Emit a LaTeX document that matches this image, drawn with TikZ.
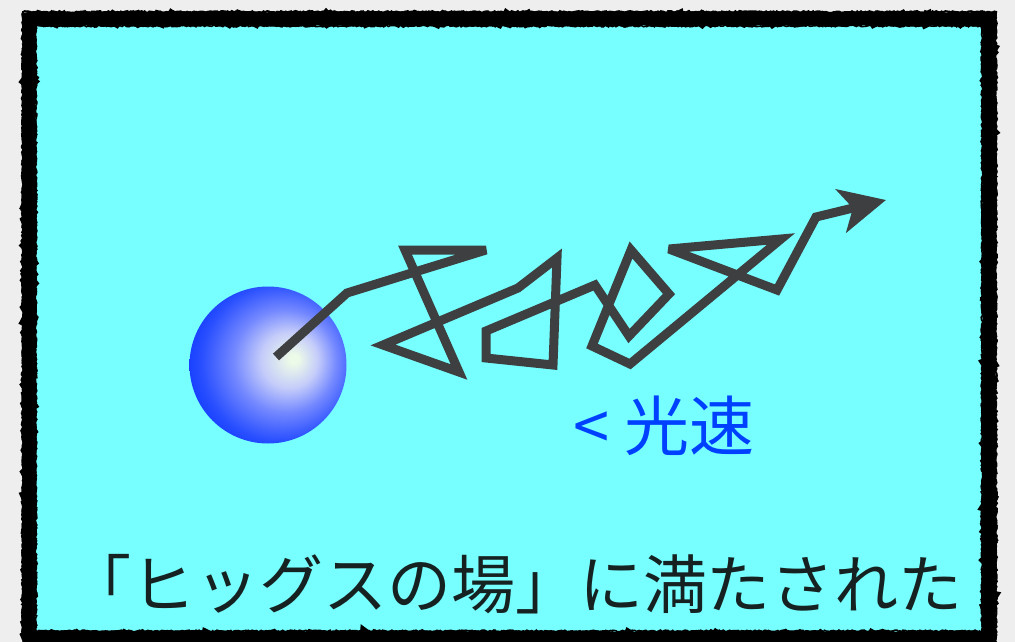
\documentclass[tikz,border=0pt]{standalone}
\usepackage{fontspec}
\usepackage{graphicx}
\newfontfamily\jpfont{Noto Sans CJK JP}
\usetikzlibrary{arrows.meta,decorations.pathmorphing}

\definecolor{pagegray}{RGB}{238,238,238}
\definecolor{fieldcyan}{RGB}{119,255,255}
\definecolor{pathgray}{RGB}{62,63,65}
\definecolor{labelblue}{RGB}{0,64,255}
\definecolor{captiondark}{RGB}{22,34,34}

% shaded particle: bright spot right of centre, deep blue rim
\pgfdeclareradialshading{particleball}{\pgfpoint{17bp}{4bp}}{%
  rgb(0bp)=(0.925,0.98,0.91);
  rgb(3bp)=(0.925,0.98,0.91);
  rgb(18bp)=(0.77,0.80,0.98);
  rgb(33bp)=(0.45,0.53,1);
  rgb(50bp)=(0.16,0.31,1);
  rgb(68bp)=(0,0.16,1);
  rgb(90bp)=(0,0.16,1)}

\tikzset{
  roughedge/.style={black, decorate,
    decoration={random steps, segment length=1.8pt, amplitude=0.9pt}},
  zigpath/.style={pathgray, line width=9pt, line join=miter, miter limit=4,
    -{Stealth[length=46pt, width=44pt, inset=12pt]}},
  captiontext/.style={font=\jpfont\fontsize{64}{64}\selectfont, inner sep=0pt},
  speedtext/.style={font=\jpfont\fontsize{65}{65}\selectfont, inner sep=0pt},
}

\begin{document}
\begin{tikzpicture}[x=1pt, y=-1pt]
  \pgfmathsetseed{7}
  \useasboundingbox (0,0) rectangle (1015,642);
  \fill[pagegray] (0,0) rectangle (1015,642);

  % the field
  \fill[fieldcyan] (30,22) rectangle (988,636);

  % hand-drawn frame
  \draw[roughedge, line width=14pt] (29,19) rectangle (989,638);
  \draw[roughedge, line width=2pt] (23,12) rectangle (996,644);
  \draw[roughedge, line width=1.5pt] (36,26) rectangle (982,631);

  % particle
  \begin{scope}
    \clip (268,365) circle[radius=78.5];
    \node[inner sep=0pt] (ball) at (268,365)
      {\scalebox{1.564}{\pgfuseshading{particleball}}};
  \end{scope}
  \coordinate (start) at (276,357);
  \coordinate (tip) at (886,200);

  % jittering trajectory through the field
  \draw[zigpath] (start) -- (347,293) -- (486,250) -- (405,250) -- (459,372)
    -- (383,345) -- (518,288) -- (557,258) -- (553,365) -- (486,358)
    -- (486,331) -- (595,285) -- (629,336) -- (669,294) -- (631,250)
    -- (592,346) -- (630,364) -- (781,239) -- (669,249) -- (777,290)
    -- (816,217) -- (tip);

  \node[speedtext, text=labelblue] (speed) at (664,426) {< 光速};
  \node[captiontext, text=captiondark] (caption) at (515,584) {「ヒッグスの場」に満たされた};
\end{tikzpicture}
\end{document}
